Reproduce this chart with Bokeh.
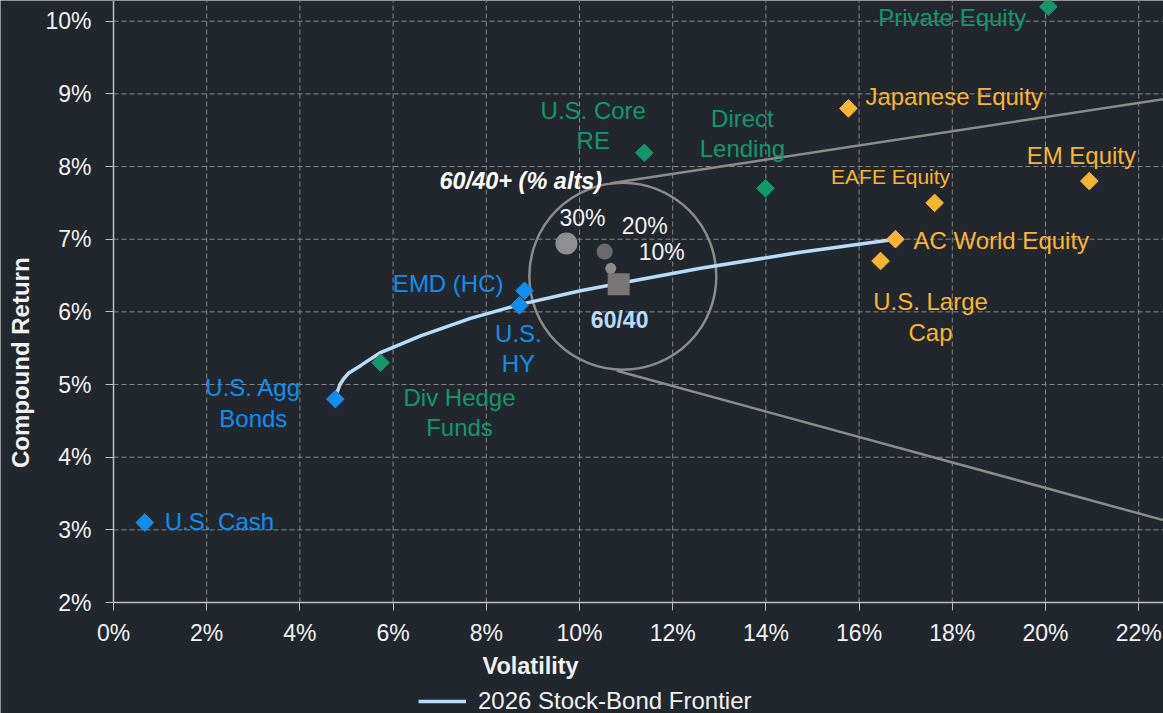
import math
from bokeh.plotting import figure
from bokeh.models import (ColumnDataSource, FixedTicker, PrintfTickFormatter, LinearAxis,
                          Legend, LegendItem, Range1d)
from bokeh.core.properties import value
from bokeh.embed import file_html
from bokeh.resources import INLINE

FONT = "Liberation Sans"
BG = "#22272e"

# ---------------- data ----------------
names = ["U.S. Cash", "U.S. Agg\nBonds", "Div Hedge\nFunds", "U.S.\nHY", "EMD (HC)",
         "U.S. Core\nRE", "Direct\nLending", "Private Equity", "Japanese Equity",
         "EAFE Equity", "EM Equity", "AC World Equity", "U.S. Large\nCap"]
vol = [0.67, 4.76, 5.73, 8.71, 8.82, 11.39, 13.99, 20.06, 15.77, 17.62, 20.94, 16.78, 16.46]
ret = [3.10, 4.80, 5.30, 6.09, 6.29, 8.19, 7.70, 10.20, 8.80, 7.50, 7.80, 7.00, 6.70]
group = ["fixed", "fixed", "alt", "fixed", "fixed", "alt", "alt", "alt",
         "equity", "equity", "equity", "equity", "equity"]

frontier_vol = [4.79, 4.86, 4.94, 5.05, 5.30, 5.73, 6.59, 7.66, 8.71, 10.02, 10.84, 12.60, 14.74, 16.78]
frontier_ret = [4.88, 5.00, 5.08, 5.16, 5.26, 5.44, 5.67, 5.91, 6.10, 6.29, 6.39, 6.60, 6.82, 7.00]

pf_names = ["60/40", "10%", "20%", "30%"]
pf_vol = [10.84, 10.67, 10.54, 9.72]
pf_ret = [6.38, 6.60, 6.83, 6.94]

zoom_center_vol = [10.93]
zoom_center_ret = [6.49]
cone_upper_vol = [10.67, 22.55]
cone_upper_ret = [7.77, 8.93]
cone_lower_vol = [10.80, 22.55]
cone_lower_ret = [5.19, 3.13]

x_ticks = [0, 2, 4, 6, 8, 10, 12, 14, 16, 18, 20, 22]
y_ticks = [2, 3, 4, 5, 6, 7, 8, 9, 10]
x_title = "Volatility"
y_title = "Compound Return"
legend_label = "2026 Stock-Bond Frontier"

# ---------------- styles ----------------
colors = {"fixed": "#0e8ff0", "alt": "#12986a", "equity": "#f8b630"}
lab_dx = [20, -82, 79, -1, -21, -51, -23, -96, 17, -44, -8, 18, 50]
lab_dy = [-1, 4, 50, 43, -7, -27, -55, 11, -12, -26, -26, 1, 56]
lab_align = ["left", "center", "center", "center", "right", "center", "center", "center",
             "left", "center", "center", "left", "center"]
lab_size = ["24px"] * 13
lab_size[9] = "21px"
FRONTIER_COLOR = "#b9dcfa"
TXT = "#f2f2f2"

# the frame covers the whole canvas; the axes are pinned at 0% / 2%
X0, X1 = -2.425, 22.532
Y0, Y1 = 0.473, 10.285
p = figure(width=1163, height=713, output_backend="svg", toolbar_location=None,
           x_range=Range1d(X0, X1), y_range=Range1d(Y0, Y1),
           x_axis_type=None, y_axis_type=None,
           min_border_left=0, min_border_right=0, min_border_top=0, min_border_bottom=0,
           background_fill_color=BG, border_fill_color=BG, outline_line_color=None)

xax = LinearAxis(fixed_location=y_ticks[0], bounds=(x_ticks[0], X1),
                 ticker=FixedTicker(ticks=x_ticks))
yax = LinearAxis(fixed_location=x_ticks[0], bounds=(y_ticks[0], Y1),
                 ticker=FixedTicker(ticks=y_ticks))
for ax in (xax, yax):
    ax.axis_line_color = "#bfbfbf"
    ax.axis_line_width = 1.5
    ax.major_tick_line_color = "#bfbfbf"
    ax.major_tick_out = 8
    ax.major_tick_in = 0
    ax.minor_tick_line_color = None
    ax.major_label_text_color = TXT
    ax.major_label_text_font = FONT
    ax.major_label_text_font_size = "23px"
    ax.formatter = PrintfTickFormatter(format="%d%%")
xax.major_label_standoff = 9
yax.major_label_standoff = 14
p.add_layout(xax, "below")
p.add_layout(yax, "left")

# dashed grid, limited to the plotting area
gx = x_ticks[1:]
gy = y_ticks[1:]
p.segment(x0=gx, y0=[y_ticks[0]] * len(gx), x1=gx, y1=[Y1] * len(gx),
          line_color="#8a8a8a", line_dash="5 3", line_width=1)
p.segment(x0=[x_ticks[0]] * len(gy), y0=gy, x1=[X1] * len(gy), y1=gy,
          line_color="#8a8a8a", line_dash="5 3", line_width=1)

# cone lines and zoom circle
p.line(cone_upper_vol, cone_upper_ret, line_color="#8c8c8c", line_width=2.5)
p.line(cone_lower_vol, cone_lower_ret, line_color="#8c8c8c", line_width=2.5)
p.scatter(zoom_center_vol, zoom_center_ret, marker="circle", size=187,
          fill_color=None, line_color="#8c8c8c", line_width=2.5)

# frontier
fr = p.line(frontier_vol, frontier_ret, line_color=FRONTIER_COLOR, line_width=3.5)

# asset markers
src = ColumnDataSource(dict(x=vol, y=ret, name=names, c=[colors[g] for g in group],
                            dx=lab_dx, dy=lab_dy, al=lab_align, fs=lab_size))
p.scatter("x", "y", source=src, marker="square", angle=math.pi / 4, size=12.5,
          fill_color="c", line_color="c")
p.text("x", "y", text="name", source=src, x_offset="dx", y_offset="dy",
       text_align="al", text_baseline="middle", text_color="c",
       text_font=value(FONT), text_font_size="fs", text_line_height=1.12)

# portfolios
p.scatter(pf_vol[0:1], pf_ret[0:1], marker="square", size=22, fill_color="#7a7676", line_color=None)
p.scatter(pf_vol[1:2], pf_ret[1:2], marker="circle", size=11, fill_color="#8a8a8a", line_color=None)
p.scatter(pf_vol[2:3], pf_ret[2:3], marker="circle", size=16, fill_color="#6b6b6b", line_color=None)
p.scatter(pf_vol[3:4], pf_ret[3:4], marker="circle", size=22, fill_color="#8f8f8f", line_color=None)

pf_dx = [1, 51, 40, 16]
pf_dy = [36, -16, -26, -26]
pf_col = [FRONTIER_COLOR, TXT, TXT, TXT]
pf_style = ["bold", "normal", "normal", "normal"]
for i in range(4):
    p.text([pf_vol[i]], [pf_ret[i]], text=[pf_names[i]], x_offset=pf_dx[i], y_offset=pf_dy[i],
           text_align="center", text_baseline="middle", text_color=pf_col[i],
           text_font=value(FONT), text_font_size="23px", text_font_style=pf_style[i])

p.text(zoom_center_vol, zoom_center_ret, text=["60/40+ (% alts)"], x_offset=-102, y_offset=-95,
       text_align="center", text_baseline="middle", text_color="#ffffff",
       text_font=value(FONT), text_font_size="23.5px", text_font_style="bold italic")

# axis titles (x title sits under the 8-10% ticks, y title left of the tick labels)
p.text([8.95], [y_ticks[0]], text=[x_title], y_offset=63, text_align="center",
       text_baseline="middle", text_color=TXT, text_font=value(FONT),
       text_font_size="23.5px", text_font_style="bold")
p.text([x_ticks[0]], [5.30], text=[y_title], x_offset=-93, angle=math.pi / 2,
       text_align="center", text_baseline="middle", text_color=TXT, text_font=value(FONT),
       text_font_size="24px", text_font_style="bold")

# legend at the bottom
leg = Legend(items=[LegendItem(label=legend_label, renderers=[fr])],
             location=(418, -2), padding=0, margin=0, glyph_width=48, label_standoff=12,
             background_fill_alpha=0, border_line_color=None,
             label_text_color=TXT, label_text_font=FONT, label_text_font_size="24px")
p.add_layout(leg)

html = file_html(p, INLINE)
open("out.html", "w").write(html)
